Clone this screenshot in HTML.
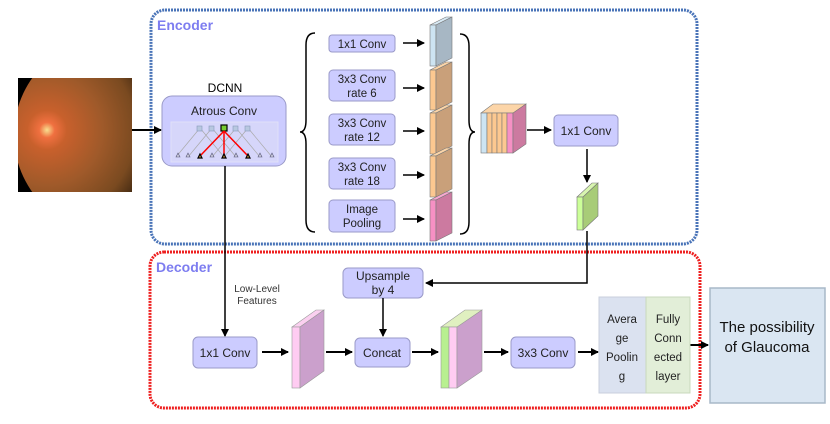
<!DOCTYPE html>
<html><head><meta charset="utf-8"><style>
body{margin:0;background:#fff;}
svg text{font-family:"Liberation Sans",sans-serif;}
</style></head><body>
<svg width="830" height="419" viewBox="0 0 830 419" xmlns="http://www.w3.org/2000/svg">
<defs>
<marker id="a" markerWidth="8" markerHeight="8" refX="7" refY="4" orient="auto" markerUnits="userSpaceOnUse"><path d="M0,0 L8,4 L0,8 z" fill="#000"/></marker>
<radialGradient id="ret" gradientUnits="userSpaceOnUse" cx="47" cy="130" r="110">
<stop offset="0" stop-color="#f8e090"/><stop offset="0.07" stop-color="#f07040"/><stop offset="0.18" stop-color="#c8602c"/><stop offset="0.5" stop-color="#a05a2a"/><stop offset="0.8" stop-color="#7a4a20"/><stop offset="1" stop-color="#3a2410"/>
</radialGradient>
<clipPath id="rc"><rect x="18" y="78" width="114" height="114"/></clipPath>
</defs>
<!-- Encoder -->
<rect x="151" y="10" width="546" height="234" rx="14" fill="none" stroke="#4a74b8" stroke-width="3" stroke-dasharray="2 1"/>
<text x="157" y="30" font-size="14" font-weight="bold" fill="#7d7df0">Encoder</text>
<!-- Decoder -->
<rect x="150" y="252" width="550" height="156" rx="14" fill="none" stroke="#ee2020" stroke-width="3" stroke-dasharray="2 1"/>
<text x="156" y="272" font-size="14" font-weight="bold" fill="#7d7df0">Decoder</text>
<!-- retina -->
<g clip-path="url(#rc)">
<rect x="18" y="78" width="114" height="114" fill="#000"/>
<circle cx="112" cy="135" r="98" fill="url(#ret)"/>
</g>
<line x1="132" y1="130" x2="161" y2="130" stroke="#000" stroke-width="2" marker-end="url(#a)"/>
<!-- DCNN -->
<text x="225" y="92" font-size="12" text-anchor="middle">DCNN</text>
<rect x="162" y="96" width="124" height="70" rx="10" fill="#ccccff" stroke="#9a9ac8"/>
<text x="224" y="115" font-size="12" text-anchor="middle" fill="#222">Atrous Conv</text>
<rect x="171" y="122" width="107" height="40" fill="#d6d6fa" stroke="#e0e0f8"/>
<g stroke="#aaa" stroke-width="0.7">
<line x1="200" y1="128" x2="176" y2="157"/><line x1="212" y1="128" x2="188" y2="157"/><line x1="236" y1="128" x2="260" y2="157"/><line x1="248" y1="128" x2="272" y2="157"/>
<line x1="200" y1="128" x2="224" y2="157"/><line x1="248" y1="128" x2="224" y2="157"/><line x1="212" y1="128" x2="236" y2="157"/><line x1="236" y1="128" x2="212" y2="157"/>
</g>
<g fill="#b8c8e0" stroke="#8899bb" stroke-width="0.6"><rect x="197" y="126" width="5" height="5"/><rect x="209" y="126" width="5" height="5"/><rect x="233" y="126" width="5" height="5"/><rect x="245" y="126" width="5" height="5"/></g>
<rect x="221" y="125" width="6" height="6" fill="#7c3" stroke="#000" stroke-width="1.2"/>
<g stroke="#f00" stroke-width="1.5"><line x1="224" y1="131" x2="200" y2="156"/><line x1="224" y1="131" x2="224" y2="156"/><line x1="224" y1="131" x2="248" y2="156"/></g>
<g fill="#ccd" stroke="#557" stroke-width="0.6"><path d="M176,157l2,-4l2,4z"/><path d="M186,157l2,-4l2,4z"/><path d="M210,157l2,-4l2,4z"/><path d="M234,157l2,-4l2,4z"/><path d="M258,157l2,-4l2,4z"/><path d="M270,157l2,-4l2,4z"/></g>
<g fill="#d9a040" stroke="#000" stroke-width="1.2"><path d="M198,158l2,-4l2,4z"/><path d="M222,158l2,-4l2,4z"/><path d="M246,158l2,-4l2,4z"/></g>
<!-- brace -->
<path d="M315,33 Q306,33 306,45 L306,120 Q306,132 300,132 Q306,132 306,144 L306,220 Q306,232 315,232" fill="none" stroke="#000" stroke-width="1.5"/>
<!-- branch boxes -->
<g fill="#ccccff" stroke="#9a9ac8">
<rect x="329" y="35" width="66" height="17" rx="3"/>
<rect x="329" y="70" width="66" height="31" rx="4"/>
<rect x="329" y="114" width="66" height="31" rx="4"/>
<rect x="329" y="158" width="66" height="31" rx="4"/>
<rect x="329" y="200" width="66" height="32" rx="4"/>
</g>
<g font-size="11.5" text-anchor="middle" fill="#222">
<text x="362" y="48">1x1 Conv</text>
<text x="362" y="83">3x3 Conv</text><text x="362" y="97">rate 6</text>
<text x="362" y="127">3x3 Conv</text><text x="362" y="141">rate 12</text>
<text x="362" y="171">3x3 Conv</text><text x="362" y="185">rate 18</text>
<text x="362" y="213">Image</text><text x="362" y="227">Pooling</text>
</g>
<g stroke="#000" stroke-width="1.5" marker-end="url(#a)">
<line x1="403" y1="43" x2="424" y2="43"/><line x1="403" y1="88" x2="424" y2="88"/><line x1="403" y1="131" x2="424" y2="131"/><line x1="403" y1="175" x2="424" y2="175"/><line x1="403" y1="219" x2="424" y2="219"/>
</g>
<!-- slabs -->
<g stroke="#777" stroke-width="0.6">
<path d="M430,25 L446,17 L452,17 L436,25z" fill="#d8eaf5"/><rect x="430" y="25" width="6" height="41" fill="#cde4f2"/><path d="M436,25 L452,17 L452,58 L436,66z" fill="#a7b7c4"/>
<path d="M430,70 L446,62 L452,62 L436,70z" fill="#fcd5a8"/><rect x="430" y="70" width="6" height="40" fill="#fcc890"/><path d="M436,70 L452,62 L452,102 L436,110z" fill="#c9a07a"/>
<path d="M430,113 L446,105 L452,105 L436,113z" fill="#fcd5a8"/><rect x="430" y="113" width="6" height="41" fill="#fcc890"/><path d="M436,113 L452,105 L452,146 L436,154z" fill="#c9a07a"/>
<path d="M430,156 L446,148 L452,148 L436,156z" fill="#fcd5a8"/><rect x="430" y="156" width="6" height="41" fill="#fcc890"/><path d="M436,156 L452,148 L452,189 L436,197z" fill="#c9a07a"/>
<path d="M430,200 L446,192 L452,192 L436,200z" fill="#f8a8d0"/><rect x="430" y="200" width="6" height="41" fill="#f690c4"/><path d="M436,200 L452,192 L452,233 L436,241z" fill="#cc7aa0"/>
</g>
<path d="M460,34 Q469,34 469,46 L469,120 Q469,132 475,132 Q469,132 469,144 L469,222 Q469,234 460,234" fill="none" stroke="#000" stroke-width="1.5"/>
<!-- concat stack -->
<g stroke="#777" stroke-width="0.6">
<path d="M481,113 L493,104 L526,104 L514,113z" fill="#fcd5a8"/>
<rect x="481" y="113" width="6" height="40" fill="#cde4f2"/>
<rect x="487" y="113" width="5" height="40" fill="#fcc890"/><rect x="492" y="113" width="5" height="40" fill="#fcc890"/><rect x="497" y="113" width="5" height="40" fill="#fcc890"/><rect x="502" y="113" width="5" height="40" fill="#fcc890"/>
<rect x="507" y="113" width="6" height="40" fill="#f690c4"/>
<path d="M513,113 L526,104 L526,144 L513,153z" fill="#cc7aa0"/>
</g>
<line x1="527" y1="130" x2="551" y2="130" stroke="#000" stroke-width="1.5" marker-end="url(#a)"/>
<rect x="554" y="115" width="64" height="31" rx="4" fill="#ccccff" stroke="#9a9ac8"/>
<text x="586" y="135" font-size="12" text-anchor="middle" fill="#222">1x1 Conv</text>
<line x1="587" y1="149" x2="587" y2="182" stroke="#000" stroke-width="1.5" marker-end="url(#a)"/>
<g stroke="#777" stroke-width="0.6">
<path d="M577,197 L592,183 L598,183 L583,197z" fill="#d8f5b0"/><rect x="577" y="197" width="6" height="33" fill="#ccff99"/><path d="M583,197 L598,183 L598,216 L583,230z" fill="#a8cc78"/>
</g>
<polyline points="587,231 587,283 426,283" fill="none" stroke="#000" stroke-width="1.5" marker-end="url(#a)"/>
<!-- low-level -->
<line x1="225" y1="166" x2="225" y2="336" stroke="#000" stroke-width="1.5" marker-end="url(#a)"/>
<text x="257" y="292" font-size="10" text-anchor="middle" fill="#333">Low-Level</text>
<text x="257" y="304" font-size="10" text-anchor="middle" fill="#333">Features</text>
<!-- decoder nodes -->
<g fill="#ccccff" stroke="#9a9ac8">
<rect x="343" y="268" width="80" height="30" rx="5"/>
<rect x="193" y="337" width="64" height="31" rx="5"/>
<rect x="355" y="338" width="55" height="29" rx="5"/>
<rect x="511" y="337" width="64" height="31" rx="5"/>
</g>
<g font-size="12" text-anchor="middle" fill="#222">
<text x="383" y="280">Upsample</text><text x="383" y="294">by 4</text>
<text x="225" y="357">1x1 Conv</text>
<text x="382" y="357">Concat</text>
<text x="543" y="357">3x3 Conv</text>
</g>
<line x1="383" y1="298" x2="383" y2="336" stroke="#000" stroke-width="1.5" marker-end="url(#a)"/>
<g stroke="#000" stroke-width="2" marker-end="url(#a)">
<line x1="262" y1="352" x2="288" y2="352"/><line x1="326" y1="352" x2="352" y2="352"/><line x1="412" y1="352" x2="438" y2="352"/><line x1="484" y1="352" x2="508" y2="352"/><line x1="578" y1="352" x2="598" y2="352"/><line x1="690" y1="345" x2="708" y2="345"/>
</g>
<g stroke="#999" stroke-width="0.6">
<path d="M292,327 L316,310 L324,310 L300,327z" fill="#fbd0f0"/><rect x="292" y="327" width="8" height="61" fill="#ffccf2"/><path d="M300,327 L324,310 L324,371 L300,388z" fill="#cba0cc"/>
<path d="M441,327 L465,310 L482,310 L458,327z" fill="#e0f0c0"/><rect x="441" y="327" width="8" height="61" fill="#b8f090"/><rect x="449" y="327" width="8" height="61" fill="#ffccf2"/><path d="M457,327 L482,310 L482,371 L457,388z" fill="#cba0cc"/>
</g>
<rect x="599" y="297" width="47" height="96" fill="#dbe2f0" stroke="#c8cfdc"/>
<rect x="646" y="297" width="44" height="96" fill="#e2eed8" stroke="#c8d8bc"/>
<g font-size="11.5" text-anchor="middle" fill="#222">
<text x="622" y="323">Avera</text><text x="622" y="342">ge</text><text x="622" y="361">Poolin</text><text x="622" y="380">g</text>
<text x="668" y="323">Fully</text><text x="668" y="342">Conn</text><text x="668" y="361">ected</text><text x="668" y="380">layer</text>
</g>
<rect x="710" y="288" width="115" height="115" fill="#dae6f2" stroke="#a8b8c8" stroke-width="1.5"/>
<text x="767" y="332" font-size="15" text-anchor="middle" fill="#111">The possibility</text>
<text x="767" y="352" font-size="15" text-anchor="middle" fill="#111">of Glaucoma</text>
</svg>
</body></html>
